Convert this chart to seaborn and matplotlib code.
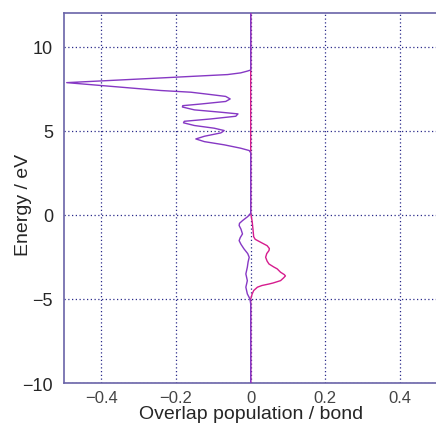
import numpy as np
import pandas as pd
import matplotlib
matplotlib.use('Agg')
import matplotlib.pyplot as plt
import seaborn as sns

# Energie (eV) et population de recouvrement
energy_a = [12.0, 8.8, 8.62, 8.55, 8.45, 8.35, 8.15, 7.87, 7.4, 7.30, 7.16, 7.05,
            6.9, 6.75, 6.6, 6.5, 6.42, 6.25, 6.11, 6.01, 5.87, 5.71, 5.57, 5.48,
            5.32, 5.16, 5.02, 4.88, 4.68, 4.52, 4.36, 4.17, 3.97, 3.83, 3.7,
            0.1, -0.1, -0.34, -0.5, -0.63, -0.85, -1.13, -1.35, -1.53, -1.75,
            -2.02, -2.3, -2.52, -2.8, -3.11, -3.51, -3.91, -4.3, -4.7, -5.0,
            -5.3, -10.0]
coop_a = [0.0, 0.0, 0.0, -0.01, -0.027, -0.062, -0.24, -0.493, -0.24, -0.16,
          -0.107, -0.067, -0.055, -0.067, -0.133, -0.182, -0.183, -0.151, -0.08,
          -0.034, -0.04, -0.107, -0.178, -0.18, -0.151, -0.098, -0.071, -0.08,
          -0.124, -0.147, -0.124, -0.071, -0.027, -0.004, 0.0,
          0.0, -0.008, -0.022, -0.03, -0.031, -0.026, -0.022, -0.028, -0.031,
          -0.026, -0.018, -0.008, -0.004, -0.007, -0.009, -0.013, -0.009,
          -0.013, -0.009, -0.002, 0.0, 0.0]

energy_b = [12.0, 0.1, -0.4, -0.83, -1.3, -1.45, -1.63, -1.83, -2.0, -2.12, -2.3,
            -2.52, -2.75, -2.92, -3.1, -3.21, -3.41, -3.55, -3.63, -3.75, -3.91,
            -4.05, -4.11, -4.2, -4.3, -4.5, -4.7, -5.0, -5.3, -10.0]
coop_b = [0.0, 0.0, 0.004, 0.006, 0.008, 0.012, 0.027, 0.044, 0.05, 0.049, 0.043,
          0.04, 0.044, 0.049, 0.062, 0.071, 0.08, 0.09, 0.093, 0.088, 0.08,
          0.06, 0.049, 0.03, 0.018, 0.008, 0.004, 0.0, 0.0, 0.0]

x_ticks = [-0.4, -0.2, 0, 0.2, 0.4]
x_ticklabels = ['\u22120.4', '\u22120.2', '0', '0.2', '0.4']
y_ticks = [-10, -5, 0, 5, 10]
y_ticklabels = ['\u221210', '\u22125', '0', '5', '10']

sns.set_style('white')
plt.rcParams['font.family'] = ['Liberation Sans', 'DejaVu Sans']

fig = plt.figure(figsize=(4.36, 4.27), dpi=100)
ax = fig.add_axes([0.147, 0.1007, 0.856, 0.866])

df_a = pd.DataFrame({'coop': coop_a, 'energy': energy_a})
df_b = pd.DataFrame({'coop': coop_b, 'energy': energy_b})

# magenta d'abord, violet par-dessus
sns.lineplot(data=df_b, x='coop', y='energy', sort=False, estimator=None,
             color='#d61c8e', linewidth=1.0, ax=ax, zorder=3,
             solid_joinstyle='round')
sns.lineplot(data=df_a, x='coop', y='energy', sort=False, estimator=None,
             color='#8638c4', linewidth=1.0, ax=ax, zorder=4,
             solid_joinstyle='round')

ax.set_xlim(-0.5, 0.5)
ax.set_ylim(-10, 12)
ax.set_xticks(x_ticks)
ax.set_xticklabels(x_ticklabels, fontsize=12, color='#444444')
ax.set_yticks(y_ticks)
ax.set_yticklabels(y_ticklabels, fontsize=13)
ax.tick_params(axis='both', length=0)
ax.tick_params(axis='x', pad=5)
ax.tick_params(axis='y', pad=8)

ax.grid(True, linestyle=(0, (1, 2)), color='#2a2a8a', linewidth=0.9)
for s in ax.spines.values():
    s.set_color('#6a64a8')
    s.set_linewidth(1.2)

ax.set_xlabel('Overlap population / bond', fontsize=14, labelpad=0)
ax.set_ylabel('Energy / eV', fontsize=14)
ax.yaxis.set_label_coords(-0.086, 0.484)

fig.savefig('out.png', dpi=100)
